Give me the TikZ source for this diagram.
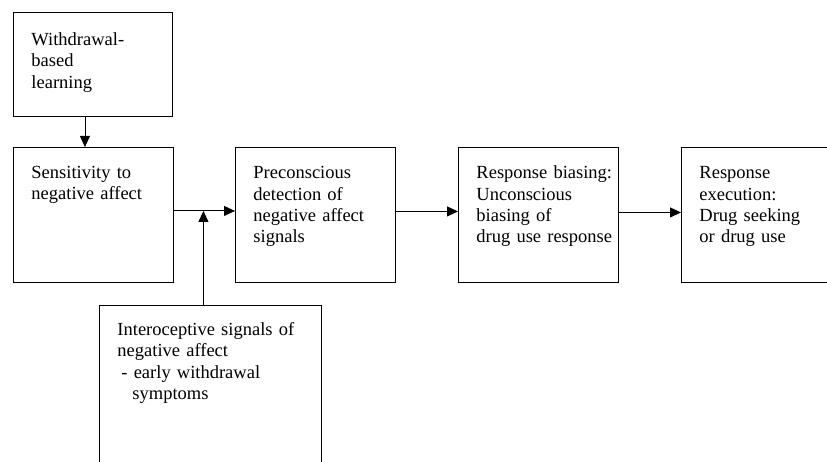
\documentclass[tikz,border=0pt]{standalone}
\usepackage{fontspec}
\setmainfont{Liberation Serif}
\usepackage{tikz}
\usetikzlibrary{arrows.meta}
\usetikzlibrary{calc}
\hfuzz=30pt

\begin{document}
\begin{tikzpicture}[x=1pt,y=-1pt,
    >={Triangle[length=11pt,width=10pt]},
    box/.style={draw,line width=0.9pt,anchor=north west,inner xsep=18pt,inner ysep=0pt,
      align=left,text width=#1,font=\fontsize{18.5}{21.3}\selectfont},
    tallbox/.style={box=124pt,text height=31pt,text depth=104pt},
    link/.style={->,line width=0.9pt}]
      \clip (0,0) rectangle (827,462);
      \node[box=123pt,text height=33pt,text depth=71pt] (wdl) at (13,12) {Withdrawal-\\based\\learning};
      \node[tallbox] (sens) at (13,147) {Sensitivity to\\negative affect};
      \node[tallbox] (prec) at (235,147.5) {Preconscious\\detection of\\negative affect\\signals};
      \node[tallbox] (bias) at (458,147.5) {\mbox{Response biasing:}\\Unconscious\\biasing of\\\mbox{drug use response}};
      \node[tallbox] (exec) at (681,147.5) {Response\\execution:\\Drug seeking\\or drug use};
      \node[box=186pt,text height=30pt,text depth=190pt] (intero) at (99,305) {Interoceptive signals of\\negative affect\\\hspace*{4pt}- early withdrawal\\\hspace*{15pt}symptoms};
      \coordinate (bc) at ([yshift=4pt]sens.east);
      \draw[link] ([xshift=-8pt]wdl.south) -- ([xshift=-8pt]wdl.south |- sens.north);
      \draw[link] (bc) -- (bc -| prec.west);
      \draw[link] ([xshift=-7pt]intero.north) -- ([xshift=-7pt]intero.north |- bc);
      \draw[link] ([yshift=4pt]prec.east) -- ([yshift=4pt]prec.east -| bias.west);
      \draw[link] ([yshift=3pt]bias.east) -- ([yshift=3pt]bias.east -| exec.west);
    \end{tikzpicture}
\end{document}
